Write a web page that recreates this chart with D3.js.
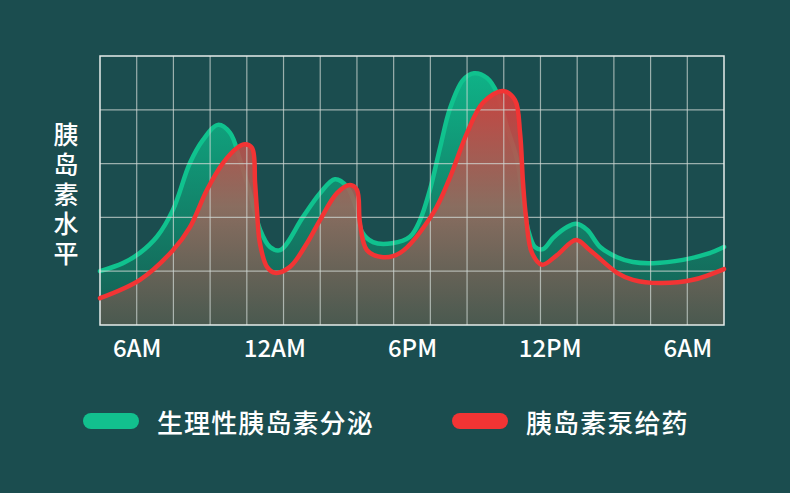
<!DOCTYPE html>
<html>
<head>
<meta charset="utf-8">
<script src="https://cdn.jsdelivr.net/npm/d3@7"></script>
<style>
  html, body { margin: 0; padding: 0; background: #1b4d4f; }
  svg { display: block; }
  text { font-family: "Noto Sans CJK SC", "Noto Sans", sans-serif; fill: #ffffff; }
</style>
</head>
<body>
<svg id="chart" width="790" height="493"></svg>
<script>
// 刻度标签（小时）
const tickHours = [6, 12, 18, 24, 30];
const tickLabels = ['6AM', '12AM', '6PM', '12PM', '6AM'];

// 系列名称
const seriesNames = ['生理性胰岛素分泌', '胰岛素泵给药'];
const yTitle = '胰岛素水平';

// 生理性胰岛素分泌 [小时, 水平]
const physiological = [
  [4.40, 1.00], [5.40, 1.15], [6.14, 1.34], [6.88, 1.64], [7.58, 2.14],
  [8.32, 3.01], [8.89, 3.44], [9.54, 3.72], [10.07, 3.57], [10.50, 3.07],
  [10.94, 2.45], [11.38, 1.77], [11.81, 1.45], [12.25, 1.39], [13.25, 2.01],
  [13.99, 2.45], [14.64, 2.71], [15.17, 2.57], [15.60, 2.14], [15.82, 1.73],
  [16.30, 1.54], [17.13, 1.52], [17.91, 1.64], [18.35, 1.95], [18.78, 2.51],
  [19.22, 3.29], [19.66, 4.03], [20.22, 4.55], [20.70, 4.68], [21.27, 4.59],
  [21.71, 4.31], [22.14, 3.68], [22.58, 3.07], [22.84, 2.32], [23.06, 1.77],
  [23.36, 1.45], [23.71, 1.41], [24.15, 1.62], [24.76, 1.82], [25.15, 1.88],
  [25.63, 1.77], [26.20, 1.45], [26.94, 1.26], [27.63, 1.17], [28.51, 1.15],
  [29.81, 1.21], [30.86, 1.32], [31.60, 1.45]
];

// 胰岛素泵给药 [小时, 水平]
const pump = [
  [4.40, 0.50], [6.14, 0.84], [7.58, 1.39], [8.32, 1.82], [9.06, 2.51],
  [9.76, 3.01], [10.37, 3.29], [10.72, 3.36], [11.03, 3.29], [11.16, 2.64],
  [11.24, 2.14], [11.37, 1.52], [11.68, 1.08], [12.03, 0.97], [12.68, 1.08],
  [13.42, 1.52], [13.99, 1.95], [14.73, 2.45], [15.30, 2.60], [15.60, 2.51],
  [15.73, 1.90], [16.04, 1.39], [16.74, 1.26], [17.48, 1.34], [18.92, 2.08],
  [19.66, 2.75], [20.40, 3.57], [21.09, 4.13], [21.97, 4.35], [22.49, 4.18],
  [22.71, 3.57], [22.84, 2.64], [22.97, 2.01], [23.23, 1.34], [23.67, 1.12],
  [24.32, 1.30], [25.15, 1.58], [25.76, 1.39], [26.94, 0.97], [27.63, 0.84],
  [28.81, 0.78], [30.25, 0.84], [31.60, 1.04]
];

const svg = d3.select('#chart');
const margin = { left: 100, right: 66, top: 56, bottom: 168 };
const width = 790 - margin.left - margin.right;
const height = 493 - margin.top - margin.bottom;

const x = d3.scaleLinear().domain([4.4, 31.6]).range([0, width]);
const y = d3.scaleLinear().domain([0, 5]).range([height, 0]);

const defs = svg.append('defs');

// 渐变：绿色面积
const gGreen = defs.append('linearGradient')
  .attr('id', 'greenFill')
  .attr('gradientUnits', 'userSpaceOnUse')
  .attr('x1', 0).attr('x2', 0)
  .attr('y1', y(4.7)).attr('y2', y(0));
gGreen.append('stop').attr('offset', 0).attr('stop-color', '#0fb287');
gGreen.append('stop').attr('offset', 1).attr('stop-color', '#155c52');

// 渐变：红色面积
const gRed = defs.append('linearGradient')
  .attr('id', 'redFill')
  .attr('gradientUnits', 'userSpaceOnUse')
  .attr('x1', 0).attr('x2', 0)
  .attr('y1', y(4.4)).attr('y2', y(0));
gRed.append('stop').attr('offset', 0).attr('stop-color', '#d83a3a').attr('stop-opacity', 0.92);
gRed.append('stop').attr('offset', 0.5).attr('stop-color', '#9a6a5e').attr('stop-opacity', 0.88);
gRed.append('stop').attr('offset', 1).attr('stop-color', '#51594f').attr('stop-opacity', 0.88);

const g = svg.append('g').attr('transform', `translate(${margin.left},${margin.top})`);

const curve = d3.curveCatmullRom.alpha(0.5);

const area = d3.area()
  .x(d => x(d[0]))
  .y0(y(0))
  .y1(d => y(d[1]))
  .curve(curve);

const line = d3.line()
  .x(d => x(d[0]))
  .y(d => y(d[1]))
  .curve(curve);

// 绿色面积与线
g.append('path').datum(physiological).attr('d', area).attr('fill', 'url(#greenFill)');
g.append('path').datum(physiological).attr('d', line)
  .attr('fill', 'none').attr('stroke', '#10c28e').attr('stroke-width', 4.5)
  .attr('stroke-linejoin', 'round').attr('stroke-linecap', 'round');

// 红色面积（覆盖绿色线）
g.append('path').datum(pump).attr('d', area).attr('fill', 'url(#redFill)');

// 网格
const gridHours = d3.range(18).map(i => 4.4 + i * 1.6);
g.append('g').selectAll('line.v')
  .data(gridHours.slice(1, -1))
  .join('line')
  .attr('x1', d => x(d)).attr('x2', d => x(d))
  .attr('y1', 0).attr('y2', height)
  .attr('stroke', 'rgba(210,218,214,0.7)').attr('stroke-width', 1.2);

g.append('g').selectAll('line.h')
  .data(y.ticks(5).slice(1, -1))
  .join('line')
  .attr('x1', 0).attr('x2', width)
  .attr('y1', d => y(d)).attr('y2', d => y(d))
  .attr('stroke', 'rgba(210,218,214,0.7)').attr('stroke-width', 1.2);

g.append('rect')
  .attr('x', 0).attr('y', 0).attr('width', width).attr('height', height)
  .attr('fill', 'none').attr('stroke', '#e6ecea').attr('stroke-width', 1.5);

// 红色线
g.append('path').datum(pump).attr('d', line)
  .attr('fill', 'none').attr('stroke', '#f23434').attr('stroke-width', 4.5)
  .attr('stroke-linejoin', 'round').attr('stroke-linecap', 'round');

// X 轴
const xAxis = d3.axisBottom(x)
  .tickValues(tickHours)
  .tickFormat((d, i) => tickLabels[i])
  .tickSize(0)
  .tickPadding(0);

const ax = g.append('g')
  .attr('transform', `translate(0,${height})`)
  .call(xAxis);
ax.select('.domain').remove();
ax.selectAll('text')
  .attr('y', 32)
  .attr('dy', 0)
  .attr('fill', '#ffffff')
  .style('font-size', '24px')
  .style('font-weight', 500)
  .style('font-family', '"Noto Sans CJK SC", "Noto Sans", sans-serif');

// Y 轴标题（竖排）
svg.append('text')
  .attr('x', 66)
  .attr('y', 122)
  .style('writing-mode', 'vertical-rl')
  .style('font-size', '25px')
  .style('font-weight', 500)
  .style('letter-spacing', '4.8px')
  .text(yTitle);

// 图例
const legendColors = ['#12c08e', '#f23434'];
const legendX = [83, 452];
const legend = svg.append('g').selectAll('g')
  .data(seriesNames)
  .join('g')
  .attr('transform', (d, i) => `translate(${legendX[i]},421)`);

legend.append('rect')
  .attr('x', 0).attr('y', -8)
  .attr('width', 56).attr('height', 16)
  .attr('rx', 8)
  .attr('fill', (d, i) => legendColors[i]);

legend.append('text')
  .attr('x', 74)
  .attr('y', 0)
  .attr('dominant-baseline', 'central')
  .style('font-size', '26px')
  .style('font-weight', 500)
  .style('letter-spacing', '1.1px')
  .text(d => d);
</script>
</body>
</html>
